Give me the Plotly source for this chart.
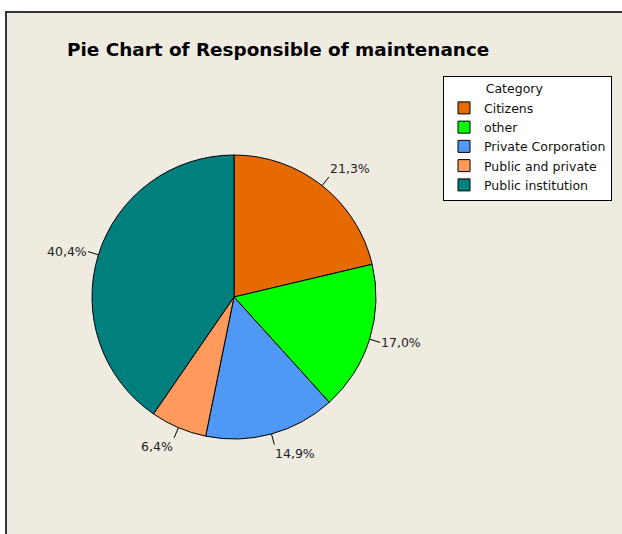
import math
import plotly.graph_objects as go

# Categories and their shares (percent), clockwise from 12 o'clock
categories = ["Citizens", "other", "Private Corporation", "Public and private", "Public institution"]
shares = [21.3, 17.0, 14.9, 6.4, 40.4]
colors = ["#E66A00", "#00FF00", "#4F98F5", "#FF9A5C", "#007F7F"]

W, H = 622, 534
BG = "#EFEBE1"

# pie placement in pixels
cx, cy, r = 234, 297, 142
lead = 11  # leader line length in px

fig = go.Figure(go.Pie(
    labels=categories,
    values=shares,
    sort=False,
    direction="clockwise",
    rotation=0,
    marker=dict(colors=colors, line=dict(color="black", width=1)),
    textinfo="none",
    hoverinfo="label+percent",
    domain=dict(x=[(cx - r) / W, (cx + r) / W], y=[(H - cy - r) / H, (H - cy + r) / H]),
))

# percent labels with short leader lines at each slice's mid-angle
annotations = []
total = sum(shares)
cum = 0.0
for v in shares:
    mid = (cum + v / 2) / total * 2 * math.pi
    cum += v
    sx, sy = math.sin(mid), math.cos(mid)
    px = cx + r * sx
    py = cy - r * sy
    annotations.append(dict(
        x=px / W, y=(H - py) / H, xref="paper", yref="paper",
        text=f"{v:.1f}%".replace(".", ","),
        showarrow=True, arrowhead=0, arrowwidth=1, arrowcolor="black",
        ax=sx * lead, ay=-sy * lead, standoff=0, borderpad=0,
        xanchor="left" if sx > 0 else "right",
        yanchor="bottom" if sy > 0.5 else ("top" if sy < -0.5 else "middle"),
        font=dict(family="DejaVu Sans", size=12.5, color="#222222"),
    ))

annotations.append(dict(
    x=65 / W, y=(H - 49) / H, xref="paper", yref="paper",
    xanchor="left", yanchor="middle", showarrow=False,
    text="<b>Pie Chart of Responsible of maintenance</b>",
    font=dict(family="DejaVu Sans", size=18.4, color="black"),
))

fig.update_layout(
    width=W, height=H,
    margin=dict(l=0, r=0, t=0, b=0),
    paper_bgcolor="white",
    showlegend=True,
    legend=dict(
        x=443 / W, y=(H - 76) / H, xanchor="left", yanchor="top",
        bgcolor="white", bordercolor="black", borderwidth=1,
        font=dict(family="DejaVu Sans", size=12.5, color="#111111"),
        title=dict(text="&nbsp;" * 10 + "Category", font=dict(family="DejaVu Sans", size=12.5)),
        traceorder="normal", itemclick=False,
    ),
    shapes=[dict(
        type="rect", xref="paper", yref="paper", layer="below",
        x0=6 / W, x1=1.05, y0=-0.05, y1=(H - 12) / H,
        fillcolor=BG, line=dict(color="#333333", width=2),
    )],
    annotations=annotations,
)

fig.write_html("out.html")
